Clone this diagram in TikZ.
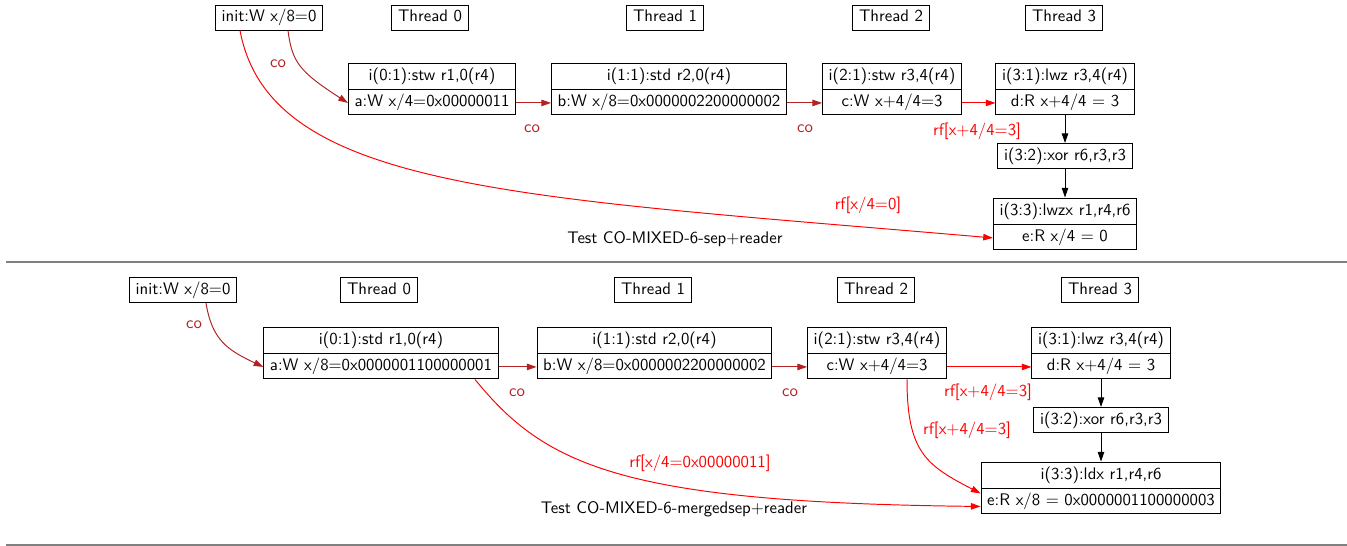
\documentclass[tikz,border=0pt]{standalone}
\usetikzlibrary{shapes.multipart,arrows.meta,calc}
\definecolor{cocol}{HTML}{B22222}
\definecolor{rfcol}{HTML}{FF0000}
\begin{document}
\begin{tikzpicture}[x=0.62pt,y=-0.62pt,font=\sffamily\fontsize{10.4pt}{12.5pt}\selectfont,
	box/.style={draw,line width=0.6pt,inner xsep=3.8pt,inner ysep=1.5pt},
	ev/.style={box,rectangle split,rectangle split parts=2,anchor=text split},
	po/.style={-{Triangle[length=6pt,width=4pt]},line width=0.6pt},
	co/.style={po,cocol},
	rf/.style={po,rfcol},
	lab/.style={inner sep=0pt}]
\useasboundingbox (0,0) rectangle (1347,546);

% Test CO-MIXED-6-sep+reader
\node[box] (init1) at (269,17.5) {\strut init:W x/8=0};
\foreach \t/\x in {0/430,1/665,2/891,3/1064}
	\node[box] (thA\t) at (\x,17.5) {\strut Thread \t};
\node[ev] (a1) at (432,89) {\strut i(0:1):stw r1,0(r4)\nodepart{two}\strut a:W x/4=0x00000011};
\node[ev] (b1) at (669,89) {\strut i(1:1):std r2,0(r4)\nodepart{two}\strut b:W x/8=0x0000002200000002};
\node[ev] (c1) at (892,89) {\strut i(2:1):stw r3,4(r4)\nodepart{two}\strut c:W x+4/4=3};
\node[ev] (d1) at (1065,89) {\strut i(3:1):lwz r3,4(r4)\nodepart{two}\strut d:R x+4/4 = 3};
\node[box] (x1) at (1065,156) {\strut i(3:2):xor r6,r3,r3};
\node[ev] (e1) at (1065,224) {\strut i(3:3):lwzx r1,r4,r6\nodepart{two}\strut e:R x/4 = 0};

\draw[co] ($(init1.south)+(19,0)$) .. controls +(4,32) and +(-48,-31) .. ($(a1.south west)+(0,-12.5)$);
\draw[rf] ($(init1.south)+(-29,0)$) .. controls +(30,160) and +(-475,-41) .. ($(e1.south west)+(0,-12.5)$);
\draw[co] ($(a1.south east)+(0,-12.5)$) -- ($(b1.south west)+(0,-12.5)$);
\draw[co] ($(b1.south east)+(0,-12.5)$) -- ($(c1.south west)+(0,-12.5)$);
\draw[rf] ($(c1.south east)+(0,-12.5)$) -- ($(d1.south west)+(0,-12.5)$);
\draw[po] (d1.south) -- (x1.north);
\draw[po] (x1.south) -- (e1.north);

\node[lab,cocol] (coA1) at (278,64) {co};
\node[lab,cocol] (coA2) at (532,129) {co};
\node[lab,cocol] (coA3) at (805,129) {co};
\node[lab,rfcol] (rfA1) at (977,131) {rf[x+4/4=3]};
\node[lab,rfcol] (rfA2) at (868,205) {rf[x/4=0]};
\node (testA) at (675,239) {Test CO-MIXED-6-sep+reader};

\draw[gray,line width=1pt] (6,262) -- (1347,262);

% Test CO-MIXED-6-mergedsep+reader
\node[box] (init2) at (183,290) {\strut init:W x/8=0};
\foreach \t/\x in {0/379,1/653,2/876,3/1100}
	\node[box] (thB\t) at (\x,290) {\strut Thread \t};
\node[ev] (a2) at (381,353) {\strut i(0:1):std r1,0(r4)\nodepart{two}\strut a:W x/8=0x0000001100000001};
\node[ev] (b2) at (654.5,353) {\strut i(1:1):std r2,0(r4)\nodepart{two}\strut b:W x/8=0x0000002200000002};
\node[ev] (c2) at (877,353) {\strut i(2:1):stw r3,4(r4)\nodepart{two}\strut c:W x+4/4=3};
\node[ev] (d2) at (1101,353) {\strut i(3:1):lwz r3,4(r4)\nodepart{two}\strut d:R x+4/4 = 3};
\node[box] (x2) at (1101,420) {\strut i(3:2):xor r6,r3,r3};
\node[ev] (e2) at (1101,488) {\strut i(3:3):ldx r1,r4,r6\nodepart{two}\strut e:R x/8 = 0x0000001100000003};

\draw[co] ($(init2.south)+(23,0)$) .. controls +(6,37) and +(-36,-17) .. ($(a2.south west)+(0,-12.5)$);
\draw[co] ($(a2.south east)+(0,-12.5)$) -- ($(b2.south west)+(0,-12.5)$);
\draw[co] ($(b2.south east)+(0,-12.5)$) -- ($(c2.south west)+(0,-12.5)$);
\draw[rf] ($(c2.south east)+(0,-12.5)$) -- ($(d2.south west)+(0,-12.5)$);
\draw[po] (d2.south) -- (x2.north);
\draw[po] (x2.south) -- (e2.north);
\draw[rf] ($(a2.south)+(94,0)$) .. controls +(70,86) and +(-359,-4) .. ($(e2.south west)+(0,-8)$);
\draw[rf] ($(c2.south)+(30,0)$) .. controls +(0,73) and +(-54,-28) .. ($(e2.south west)+(0,-21)$);

\node[lab,cocol] (coB1) at (194,325) {co};
\node[lab,cocol] (coB2) at (517,393) {co};
\node[lab,cocol] (coB3) at (790,393) {co};
\node[lab,rfcol] (rfB1) at (988,392) {rf[x+4/4=3]};
\node[lab,rfcol] (rfB2) at (967,430) {rf[x+4/4=3]};
\node[lab,rfcol] (rfB3) at (700,463) {rf[x/4=0x00000011]};
\node (testB) at (674,509) {Test CO-MIXED-6-mergedsep+reader};

\draw[gray,line width=1pt] (6,545) -- (1347,545);
\end{tikzpicture}
\end{document}
